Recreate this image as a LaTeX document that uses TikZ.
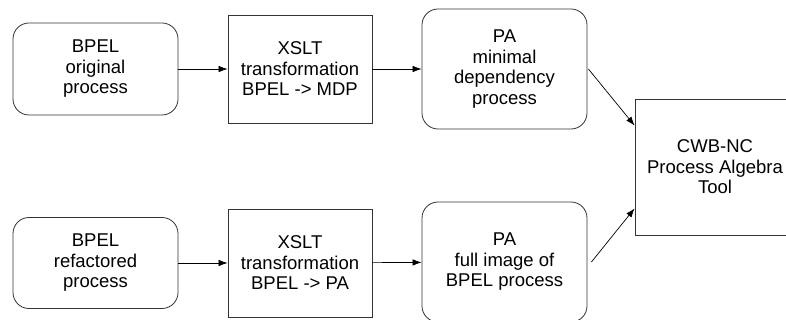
\documentclass[tikz,border=0pt]{standalone}
\usepackage{fontspec}
\setmainfont{Liberation Sans}
\usetikzlibrary{arrows.meta}

\newcommand\RowA{-69pt}
\newcommand\RowB{-263pt}

\tikzset{
  box/.style={draw=black!80, line width=0.8pt, align=center, inner sep=2pt,
    font=\fontsize{18.5}{20.5}\selectfont},
  roundbox/.style={box, rounded corners=16pt},
  flow/.style={-{Latex[length=9pt,width=6.5pt]}, line width=0.7pt}
}

\begin{document}
\begin{tikzpicture}

  \useasboundingbox (0,0) rectangle (786pt,-320pt);

  %% top row
  \node[roundbox, minimum width=165pt, minimum height=92pt] (orig) at (95.5pt, \RowA) {BPEL\\original\\process};
  \node[box, minimum width=144pt, minimum height=108pt] (xsltmdp) at (300pt, \RowA) {XSLT\\transformation\\BPEL -> MDP};
  \node[roundbox, minimum width=165pt, minimum height=120pt] (pamin) at (504.5pt, \RowA) {PA\\minimal\\dependency\\process};

  %% bottom row
  \node[roundbox, minimum width=165pt, minimum height=91pt] (refac) at (95.5pt, \RowB) {BPEL\\refactored\\process};
  \node[box, minimum width=144pt, minimum height=108pt] (xsltpa) at (300pt, \RowB) {XSLT\\transformation\\BPEL -> PA};
  \node[roundbox, minimum width=165pt, minimum height=120pt] (pafull) at (504.5pt, -262pt) {PA\\full image of\\BPEL process};

  %% tool
  \node[box, minimum width=160pt, minimum height=136pt] (cwb) at (715pt, -167pt) {CWB-NC\\Process Algebra\\Tool};

  \draw[flow] (orig) -- (xsltmdp); %% b1 b2
  \draw[flow] (xsltmdp) -- (pamin); %% b2 b3
  \draw[flow] (refac) -- (xsltpa); %% b5 b6
  \draw[flow] (xsltpa) -- (pafull); %% b6 b7
  \draw[flow] ([xshift=1pt]pamin.east) -- ([yshift=-27pt]cwb.north west); %% b3 b4
  \draw[flow] ([xshift=4pt]pafull.east) -- ([yshift=27pt]cwb.south west); %% b7 b4

\end{tikzpicture}
\end{document}
